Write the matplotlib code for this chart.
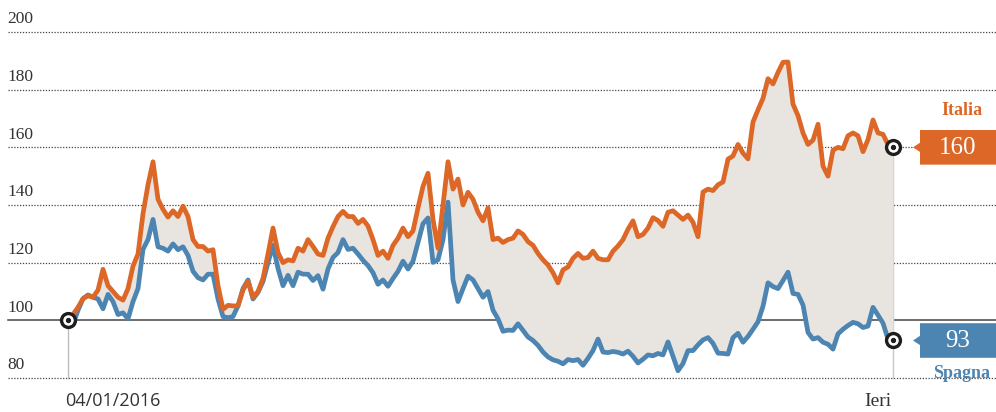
import numpy as np
import matplotlib.pyplot as plt

# indici normalizzati (100 = 04/01/2016), un punto ogni ~5 sedute
italia = [100, 102, 104.5, 107.5, 108.5, 108, 110.5, 117.7, 112, 110,
          108, 107, 111, 118.8, 123, 137, 147, 155, 142, 138.5,
          135.8, 138, 136, 139.6, 136, 128, 125.6, 125.6, 124, 124.5,
          112, 103.8, 105.2, 105, 105, 110.5, 113.5, 108, 110, 114.5,
          123, 132, 123.5, 120, 121, 120.6, 125, 124, 128, 125.6,
          123, 122.5, 128.5, 132.5, 136, 137.8, 136, 136, 133.6, 135,
          132.7, 128, 122.5, 124, 121.5, 126, 128.5, 132, 129, 131,
          139, 146.5, 151, 135, 125, 140, 155, 145.5, 149, 140,
          144.4, 142, 137.5, 134.5, 139, 128, 128.5, 127, 128, 128.5,
          131, 129.8, 127.3, 126, 123.2, 121, 119.2, 116.5, 113, 117.5,
          118.5, 121.5, 123.2, 121.5, 121.8, 124, 121.5, 121, 121, 124,
          125.8, 128, 131.6, 134.5, 129, 129.8, 132, 135.6, 134.6, 132.6,
          137.5, 138, 136.5, 135, 136.5, 134, 129, 144.5, 145.5, 145,
          147, 148, 155.9, 157, 161, 158, 156, 168.8, 173, 177,
          183.8, 182, 186, 189.5, 189.6, 175, 171, 165, 161, 162.5,
          168, 153.5, 150, 159, 160, 159.5, 164, 165, 164, 158.5,
          162.7, 169.5, 165, 164.5, 161, 160]

spagna = [100, 98.5, 103.5, 107.5, 108.8, 108, 107.4, 104, 109, 106.5,
          102, 102.6, 100.5, 106.5, 111, 124.6, 128, 135, 125.5, 125,
          124, 126.5, 124.5, 125.5, 122.5, 117, 114.8, 114, 116, 116,
          107.4, 101.3, 100.9, 101.3, 105, 111, 114, 107.4, 109.7, 113.5,
          120, 126, 118, 112, 115.6, 112, 116.7, 116, 116, 113.8,
          115.5, 110.8, 117.8, 121.8, 123.5, 128, 124.6, 125, 123, 120.8,
          119, 116.5, 112.5, 114, 111.8, 114.5, 117, 120.5, 117.8, 120.5,
          127, 133.5, 135.5, 120.1, 121, 128, 141, 114, 106.5, 111,
          115.3, 114, 111, 108, 110, 103.5, 100.5, 96.2, 96.6, 96.5,
          98.8, 96.5, 94.2, 93, 91.3, 89, 87.3, 86.3, 85.8, 84.9,
          86.4, 86, 86.4, 84.4, 86.8, 89.5, 93.5, 89, 88.8, 89.2,
          88.9, 88.3, 89.3, 87.5, 85.2, 86.5, 88, 87.7, 88.5, 88,
          92.5, 87.5, 82.5, 85, 89.5, 89.5, 91.5, 93.2, 94, 92,
          88.6, 88.5, 88.3, 94, 95.5, 92.4, 94.4, 96.9, 99.5, 104.9,
          113, 111.7, 111, 113.8, 116.7, 109.3, 109, 105.3, 95.8, 93.5,
          94, 92.4, 91.7, 90, 95.3, 96.9, 98.2, 99.3, 98.8, 97.5,
          98, 104.5, 101.8, 99, 93.5, 93]

y_ticks = [80, 100, 120, 140, 160, 180, 200]
date_labels = ["04/01/2016", "Ieri"]

ORANGE = "#DC6726"
BLUE = "#4C84B2"
FILL = "#E8E4DF"
SERIF = ["Liberation Serif", "DejaVu Serif"]

x = np.arange(len(italia))
last = x[-1]

fig = plt.figure(figsize=(9.96, 4.12), dpi=100)
ax = fig.add_axes([0, 0, 1, 1])
ax.set_xlim(-13.6, 185.6)
ax.set_ylim(68.2, 211.1)
ax.axis("off")

# griglia
for t in y_ticks:
    if t == 100:
        ax.axhline(t, xmin=0.008, color="#444444", lw=1.1, zorder=1)
    else:
        ax.axhline(t, xmin=0.008, color="#444444", lw=0.9,
                   ls=(0, (1.0, 1.3)), zorder=1)
    ax.text(-12.2, t + 1.6, str(t), family=SERIF, fontsize=12.5,
            color="#333333", ha="left", va="bottom")

# linee verticali inizio / fine
ax.plot([0, 0], [80, 100], color="#BDBDBD", lw=1, zorder=2)
ax.plot([last, last], [80, italia[-1]], color="#C8C8C8", lw=1, zorder=2)

ax.fill_between(x, spagna, italia, color=FILL, lw=0, zorder=2)
ax.plot(x, spagna, color=BLUE, lw=3.4, solid_joinstyle="round", zorder=3)
ax.plot(x, italia, color=ORANGE, lw=3.4, solid_joinstyle="round", zorder=4)

# marcatori
for xm, ym in [(0, 100), (last, italia[-1]), (last, spagna[-1])]:
    ax.plot(xm, ym, "o", ms=10, mfc="white", mec="#1E1E1E", mew=2.4, zorder=6)
    ax.plot(xm, ym, "o", ms=2.8, color="#1E1E1E", zorder=7)


def value_box(yv, color, label):
    bx0, bx1 = 170.4, 186
    h = 6.0
    tip = 169.0
    poly = plt.Polygon([(tip, yv), (bx0, yv + 1.6), (bx0, yv + h),
                        (bx1, yv + h), (bx1, yv - h), (bx0, yv - h),
                        (bx0, yv - 1.6)], closed=True, color=color, lw=0,
                       zorder=5)
    ax.add_patch(poly)
    ax.text((bx0 + 185.6) / 2, yv - 0.3, label, family=SERIF, fontsize=18,
            color="white", ha="center", va="center", zorder=6)


value_box(italia[-1], ORANGE, str(round(italia[-1])))
value_box(spagna[-1], BLUE, str(round(spagna[-1])))

ax.text(178.8, 172.8, "Italia", family=SERIF, fontsize=13, weight="bold",
        color=ORANGE, ha="center", va="center")
ax.text(178.8, 81.6, "Spagna", family=SERIF, fontsize=13, weight="bold",
        color=BLUE, ha="center", va="center")

ax.text(-0.6, 68.9, date_labels[0], family=["Open Sans", "DejaVu Sans"],
        fontsize=13, color="#333333", ha="left", va="bottom")
ax.text(last - 0.4, 68.9, date_labels[1], family=SERIF, fontsize=14,
        color="#333333", ha="right", va="bottom")

plt.savefig("out.png", dpi=100)
